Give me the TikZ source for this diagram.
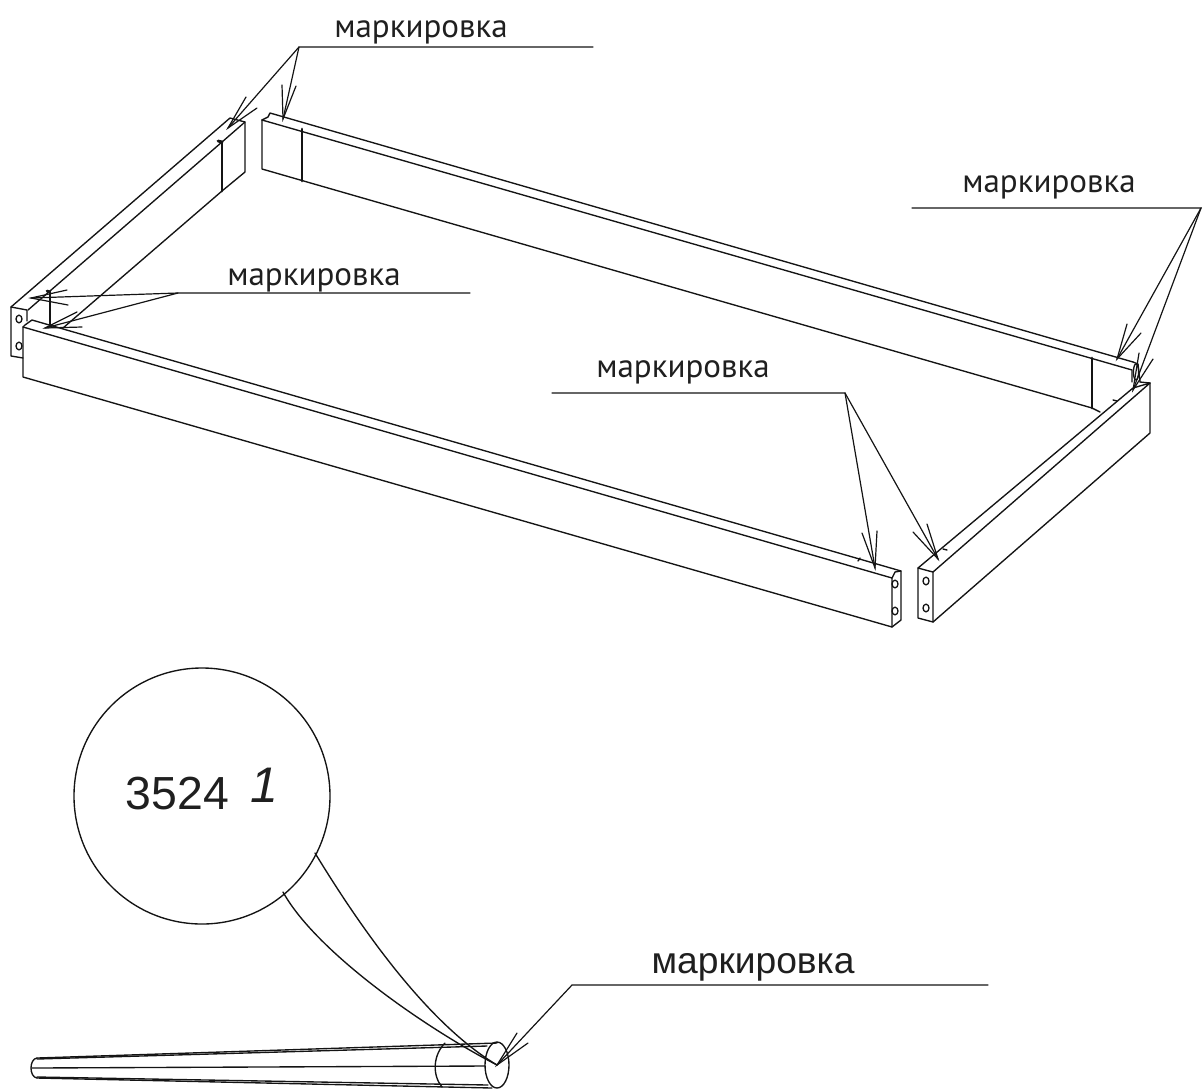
\documentclass[tikz,border=0pt]{standalone}
\usepackage{fontspec}
\setmainfont{Liberation Sans}
\newfontfamily\gost{PT Sans}
\tikzset{
  edge/.style={line width=0.68pt,line cap=round,line join=round,black!92},
  heavy/.style={line width=1.4pt,line cap=round,black!92},
  lead/.style={line width=0.6pt,line cap=round,black!92},
  hole/.style={line width=0.65pt,black!92},
  gostlabel/.style={font=\gost\fontsize{16.5}{18}\selectfont,inner sep=0pt,text=black!88,anchor=base},
}
\newcommand{\barbs}[3]{\draw[lead] (#2) -- (#1) -- (#3);}
\begin{document}
\begin{tikzpicture}[x=0.5pt,y=-0.5pt]
\useasboundingbox (0,0) rectangle (1203,1088);
% left beam
\draw[edge] (11,307) -- (230,118) -- (245,122) -- (245,172) -- (222,191) -- (63,328);
\draw[edge] (28,310) -- (222,142) -- (245,122);
\draw[edge] (11,307) -- (27,310) -- (27,321);
\draw[edge] (11,307) -- (11,356) -- (23,358);
\draw[heavy] (222,142) -- (222,191);
\draw[heavy] (218,141) -- (222,142);
\draw[heavy] (50,292) -- (50,327);
\draw[heavy] (47,291) -- (50,292);
\draw[hole] (19,319) ellipse [x radius=3,y radius=3.8];
\draw[hole] (19,346) ellipse [x radius=3,y radius=3.8];
% front beam
\draw[edge] (23,327) -- (25,325) -- (32,320) -- (901,571) -- (901,620) -- (892,627) -- (23,377) -- cycle;
\draw[edge] (23,327) -- (892,578) -- (892,627);
\draw[edge] (892,578) -- (895,572) -- (901,571);
\draw[hole] (895,584) ellipse [x radius=3,y radius=3.8];
\draw[hole] (895,611) ellipse [x radius=3,y radius=3.8];
\draw[edge] (858,561) -- (860,558);
% back beam
\draw[edge] (262,120) -- (268,117) -- (270,113) -- (1133,362);
\draw[edge] (262,120) -- (1132,370) -- (1132,382);
\draw[edge] (262,120) -- (262,169) -- (1092,408);
\draw[edge] (1092,408) -- (1100,412);
\draw[edge] (1133,362) -- (1138,364) -- (1140,382);
\draw[heavy] (302,129) -- (302,181);
\draw[heavy] (1092,358) -- (1092,408);
\draw[edge] (1136,372) ellipse [x radius=2.6,y radius=8];
% right beam
\draw[edge] (918,568) -- (1133,388) -- (1150,383) -- (933,572) -- (929,571) -- cycle;
\draw[edge] (918,568) -- (918,618) -- (933,622) -- (933,572);
\draw[edge] (933,622) -- (1150,433) -- (1150,383);
\draw[edge] (1140,382) -- (1150,383);
\draw[hole] (926,581) ellipse [x radius=3,y radius=3.8];
\draw[hole] (926,608) ellipse [x radius=3,y radius=3.8];
\draw[edge] (1113,400) -- (1117,401);
\draw[edge] (943,549) -- (947,550);
% labels and leaders
\node[gostlabel] (lblA) at (421,37) {маркировка};
\node[gostlabel] (lblB) at (314,285) {маркировка};
\node[gostlabel] (lblC) at (1049,192) {маркировка};
\node[gostlabel] (lblD) at (683,377) {маркировка};
\coordinate (aR) at (593,47); \coordinate (aJ) at (299,47);
\coordinate (bR) at (470,293); \coordinate (bJ) at (178,293);
\coordinate (cL) at (912,208); \coordinate (cJ) at (1201,208);
\coordinate (dL) at (552,393); \coordinate (dJ) at (845,393);
\coordinate (a1) at (283,119); \coordinate (a2) at (228,128);
\coordinate (b1) at (31,298); \coordinate (b2) at (45,328);
\coordinate (c1) at (1117,359); \coordinate (c2) at (1133,390);
\coordinate (d1) at (875,568); \coordinate (d2) at (938,559);
\draw[lead] (aR) -- (aJ) -- (a1); \draw[lead] (aJ) -- (a2);
\draw[lead] (bR) -- (bJ) -- (b1); \draw[lead] (bJ) -- (b2);
\draw[lead] (cL) -- (cJ) -- (c1); \draw[lead] (cJ) -- (c2);
\draw[lead] (dL) -- (dJ) -- (d1); \draw[lead] (dJ) -- (d2);
\barbs{a1}{282,85}{296,86}
\barbs{a2}{246,97}{257,108}
\barbs{b1}{67,290}{68,305}
\barbs{b2}{77,312}{82,327}
\barbs{c1}{1127,324}{1141,333}
\barbs{c2}{1139,353}{1153,359}
\barbs{d1}{862,533}{877,531}
\barbs{d2}{913,532}{927,524}
% callout
\node[draw,edge,circle,minimum size=128pt,inner sep=0pt] (bubble) at (202,796) {};
\node[inner sep=0pt,font=\fontsize{23.2}{26}\selectfont,text=black!88] (num) at (177.5,794) {3524};
\node[inner sep=0pt,font=\itshape\fontsize{25}{28}\selectfont,text=black!88] (idx) at (264,785) {1};
% pin
\draw[edge] (37,1058) -- (497,1043);
\draw[edge] (37,1059) -- (487,1046);
\draw[edge] (37,1078) -- (492,1088);
\draw[edge] (37,1077) -- (488,1085);
\draw[edge] (37,1058) .. controls (29,1059) and (29,1077) .. (37,1078);
\draw[edge] (32,1068) -- (485,1066);
\draw[edge] (497,1065) ellipse [x radius=12,y radius=23];
\draw[edge] (445,1043) .. controls (433,1055) and (432,1075) .. (442,1087);
% callout tail
\coordinate (tip) at (497,1065);
\coordinate (t1) at (315,853);
\coordinate (t2) at (283,892);
\draw[edge] (t1) .. controls (365,935) and (430,1025) .. (tip);
\draw[edge] (t2) .. controls (315,950) and (420,1025) .. (tip);
\node[anchor=base,inner sep=0pt,font=\fontsize{18.6}{20}\selectfont,text=black!88] (lblE) at (753,973) {маркировка};
\coordinate (eR) at (988,985); \coordinate (eJ) at (572,985);
\draw[lead] (eR) -- (eJ) -- (tip);
\barbs{tip}{517,1033}{528,1043}
\end{tikzpicture}
\end{document}
